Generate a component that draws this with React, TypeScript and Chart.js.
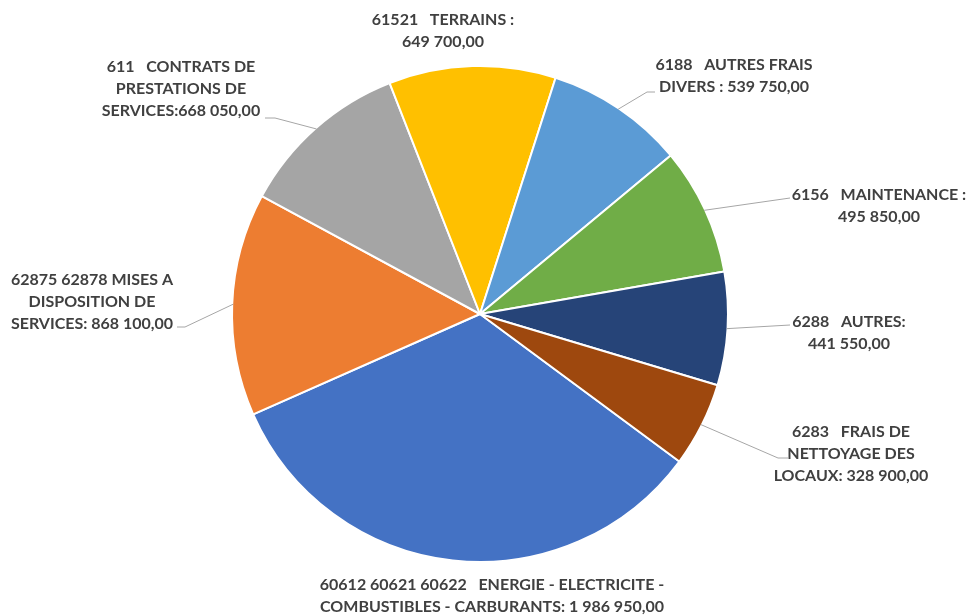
import React, { useEffect, useRef } from "react";
import { Chart, registerables } from "chart.js";

Chart.register(...registerables);

// ---- data ----
const categories = [
  "60612 60621 60622   ENERGIE - ELECTRICITE -\nCOMBUSTIBLES - CARBURANTS: ",
  "62875 62878 MISES A\nDISPOSITION DE\nSERVICES: ",
  "611   CONTRATS DE\nPRESTATIONS DE\nSERVICES:",
  "61521   TERRAINS :\n",
  "6188   AUTRES FRAIS\nDIVERS : ",
  "6156   MAINTENANCE :\n",
  "6288   AUTRES:\n",
  "6283   FRAIS DE\nNETTOYAGE DES\nLOCAUX: ",
];
const values = [1986950, 868100, 668050, 649700, 539750, 495850, 441550, 328900];
const colors = ["#4472C4", "#ED7D31", "#A5A5A5", "#FFC000", "#5B9BD5", "#70AD47", "#264478", "#9E480E"];

// ---- label layout (offsets from pie centre) ----
type Layout = { dx: number; dy: number; attach?: [number, number]; knee?: [number, number] };
const labelLayout: Layout[] = [
  { dx: 12, dy: 271 },
  { dx: -388, dy: -34, attach: [-303, 13], knee: [-295, 13] },
  { dx: -299, dy: -247, attach: [-215, -196], knee: [-205, -196] },
  { dx: -37, dy: -294 },
  { dx: 254, dy: -249, attach: [175, -222], knee: [167, -222] },
  { dx: 399, dy: -119, attach: [310, -116] },
  { dx: 369, dy: 8, attach: [310, 11] },
  { dx: 371, dy: 118, attach: [308, 144], knee: [298, 144] },
];

const FONT = "bold 16px Lato";
const LINE_H = 22;

function fmt(v: number): string {
  const s = Math.round(v).toString().replace(/\B(?=(\d{3})+(?!\d))/g, " ");
  return s + ",00";
}

const labelPlugin = {
  id: "pieLabels",
  afterDatasetsDraw(chart: any) {
    const ctx = chart.ctx as CanvasRenderingContext2D;
    const meta = chart.getDatasetMeta(0);
    ctx.save();
    meta.data.forEach((arc: any, i: number) => {
      const p = arc.getProps(["x", "y", "startAngle", "endAngle", "outerRadius"], true);
      const mid = (p.startAngle + p.endAngle) / 2;
      const ex = p.x + Math.cos(mid) * (p.outerRadius - 1);
      const ey = p.y + Math.sin(mid) * (p.outerRadius - 1);
      const L = labelLayout[i];
      if (L.attach) {
        ctx.beginPath();
        ctx.strokeStyle = "#A6A6A6";
        ctx.lineWidth = 1;
        ctx.moveTo(p.x + L.attach[0], p.y + L.attach[1]);
        if (L.knee) ctx.lineTo(p.x + L.knee[0], p.y + L.knee[1]);
        ctx.lineTo(ex, ey);
        ctx.stroke();
      }
      const lines = (categories[i] + fmt(values[i])).split("\n");
      ctx.font = FONT;
      ctx.fillStyle = "#404040";
      ctx.textAlign = "center";
      ctx.textBaseline = "middle";
      lines.forEach((ln, j) => {
        ctx.fillText(ln, p.x + L.dx, p.y + L.dy + j * LINE_H);
      });
    });
    ctx.restore();
  },
};

export default function App() {
  const ref = useRef<HTMLCanvasElement | null>(null);
  useEffect(() => {
    if (!ref.current) return;
    const chart = new Chart(ref.current, {
      type: "pie",
      data: {
        labels: categories.map((c) => c.replace(/\n/g, " ").trim()),
        datasets: [
          {
            data: values,
            backgroundColor: colors,
            borderColor: "#FFFFFF",
            borderWidth: 2,
          },
        ],
      },
      options: {
        responsive: false,
        animation: false,
        rotation: 126.5,
        layout: { padding: { left: 231, right: 242, top: 65, bottom: 53 } },
        plugins: {
          legend: { display: false },
          tooltip: { enabled: false },
        },
      },
      plugins: [labelPlugin],
    });
    return () => chart.destroy();
  }, []);
  return (
    <div style={{ position: "fixed", left: 0, top: 0, width: 971, height: 616, background: "#FFFFFF" }}>
      <canvas ref={ref} width={971} height={616} />
    </div>
  );
}
